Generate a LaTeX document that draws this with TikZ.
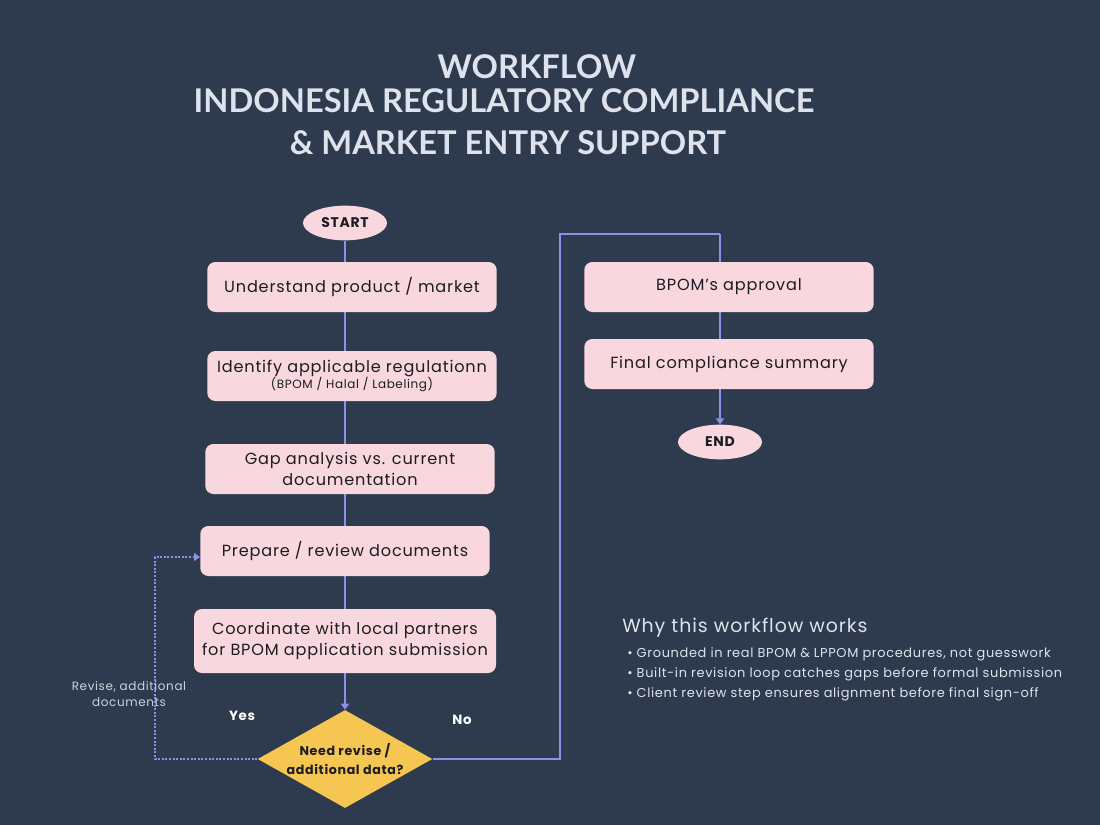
\documentclass[tikz,border=0pt]{standalone}
\usepackage{fontspec}
\setmainfont{Poppins}[LetterSpace=5]
\newfontfamily\titlefont{Lato}
\usetikzlibrary{shapes.geometric,arrows.meta,backgrounds}
\definecolor{bgnavy}{RGB}{46,59,78}
\definecolor{boxpink}{RGB}{249,215,223}
\definecolor{flowline}{RGB}{140,145,232}
\definecolor{decyellow}{RGB}{246,198,82}
\definecolor{titlegray}{RGB}{222,226,236}
\definecolor{inktext}{RGB}{28,28,34}
\definecolor{notegray}{RGB}{205,210,220}
\tikzset{
  headline/.style={font=\titlefont\bfseries\fontsize{24.5}{27}\selectfont, text=titlegray, inner sep=0pt},
  stepbox/.style={rectangle, rounded corners=6pt, fill=boxpink, text=inktext, align=center,
    minimum width=217pt, minimum height=37.5pt, inner sep=2pt, font=\fontsize{12.1}{16}\selectfont},
  terminal/.style={ellipse, fill=boxpink, text=inktext, minimum width=63pt, minimum height=26pt,
    inner sep=0pt, font=\bfseries\fontsize{10.5}{12}\selectfont},
  decision/.style={diamond, fill=decyellow, text=inktext, aspect=1.8, align=center, inner sep=0pt,
    minimum width=131pt, minimum height=73.5pt, font=\bfseries\fontsize{9.5}{14}\selectfont},
  flow/.style={draw=flowline, line width=1.5pt},
  looppath/.style={draw=flowline, line width=1.5pt, dash pattern=on 1.5pt off 1.2pt},
  tip/.style={-{Triangle[width=6pt,length=4.5pt]}},
  branch/.style={text=white, font=\bfseries\fontsize{10}{11}\selectfont},
  note/.style={text=notegray, align=center, font=\fontsize{9}{11.5}\selectfont}
}
\begin{document}
\begin{tikzpicture}[x=0.75pt,y=-0.75pt]
  \begin{scope}[on background layer]
    \fill[bgnavy] (0,0) rectangle (1100,825);
  \end{scope}

  % title
  \node[headline] (head1) at (537,67) {WORKFLOW};
  \node[headline] (head2) at (504,101) {INDONESIA REGULATORY COMPLIANCE};
  \node[headline] (head3) at (508,143) {\& MARKET ENTRY SUPPORT};

  % main column
  \node[terminal] (start) at (345,223) {START};
  \node[stepbox] (understand) at (352,287) {Understand product / market};
  \node[stepbox] (identify) at (352,376) {Identify applicable regulationn\\[-4pt]{\fontsize{9}{10}\selectfont (BPOM / Halal / Labeling)}};
  \node[stepbox] (gap) at (350,469) {Gap analysis vs. current\\documentation};
  \node[stepbox] (prepare) at (345,551) {Prepare / review documents};
  \node[stepbox, minimum width=226.5pt, minimum height=48pt] (coord) at (345,641) {Coordinate with local partners\\for BPOM application submission};
  \node[decision] (need) at (345,759) {Need revise /\\additional data?};

  % right column
  \node[stepbox] (approval) at (729,287) {BPOM’s approval};
  \node[stepbox] (summary) at (729,364) {Final compliance summary};
  \node[terminal] (finish) at (720,442) {END};

  \coordinate (nocorner) at (560,234);
  \coordinate (noturn) at (720,234);
  \coordinate (loopcorner) at (155,557);

  \begin{scope}[on background layer]
    \draw[flow, tip] (start) -- (need);
    \draw[flow] (need.east) -| (nocorner) -- (noturn);
    \draw[flow, tip] (noturn) -- (finish);
  \end{scope}
  \draw[looppath, tip] (need.west) -| (loopcorner) -- (loopcorner -| prepare.west);

  \node[branch] (yes) at (242,716) {Yes};
  \node[branch] (no) at (462,720) {No};
  \node[note] (revise) at (129,694) {Revise, additional\\documents};

  % notes
  \node[anchor=west, text=titlegray, inner sep=0pt, font=\fontsize{14.2}{16}\selectfont] (why) at (622,628) {Why this workflow works};
  \node[anchor=north west, text=titlegray, inner sep=0pt, align=left, font=\fontsize{9.7}{15}\selectfont] (points) at (627,647)
    {\textbullet\ Grounded in real BPOM \& LPPOM procedures, not guesswork\\
     \textbullet\ Built-in revision loop catches gaps before formal submission\\
     \textbullet\ Client review step ensures alignment before final sign-off};
\end{tikzpicture}
\end{document}
